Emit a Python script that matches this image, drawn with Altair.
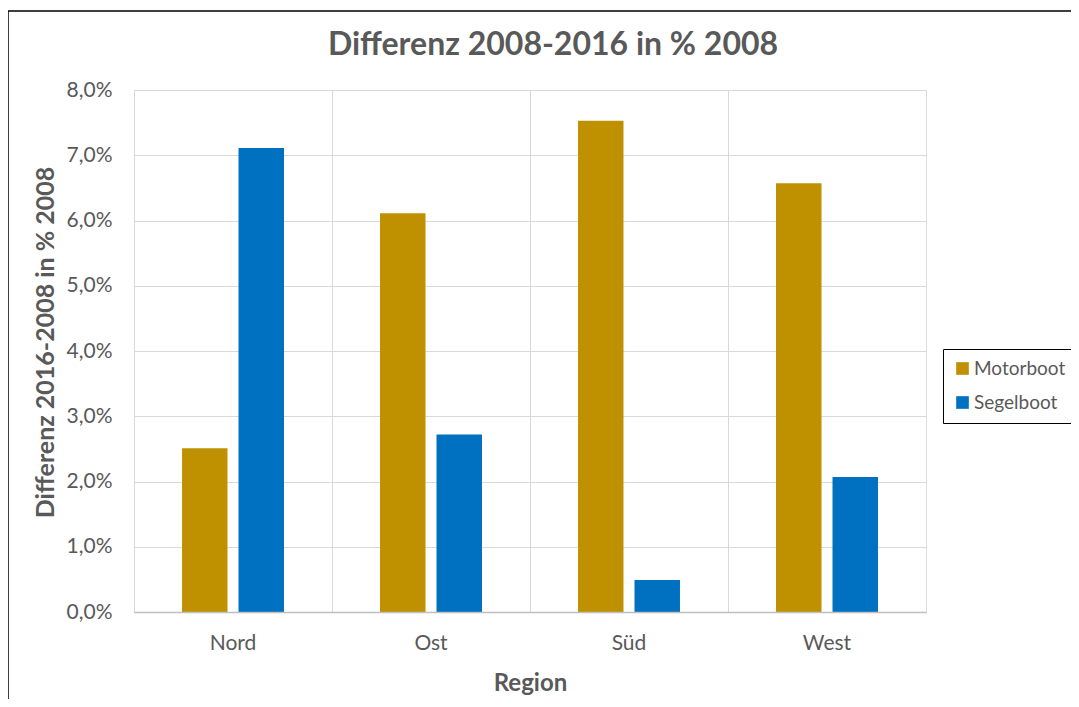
import altair as alt
import pandas as pd

regions = ["Nord", "Ost", "Süd", "West"]
motorboot = [2.51, 6.11, 7.53, 6.57]
segelboot = [7.11, 2.72, 0.49, 2.07]
series = ["Motorboot", "Segelboot"]
colors = ["#BF9000", "#0070C0"]
chart_title = "Differenz 2008-2016 in % 2008"

rows = []
for r, m, s in zip(regions, motorboot, segelboot):
    rows.append({"Region": r, "Typ": "Motorboot", "Wert": m})
    rows.append({"Region": r, "Typ": "Segelboot", "Wert": s})
df = pd.DataFrame(rows)

FONT = "Lato"
GREY = "#595959"

bars = alt.Chart(df).mark_bar().encode(
    x=alt.X("Region:N", sort=regions,
            scale=alt.Scale(paddingInner=0, paddingOuter=0),
            axis=alt.Axis(title="Region", labelAngle=0, labelFontSize=21, labelColor=GREY,
                          labelFont=FONT, labelPadding=20, ticks=False, domainColor="#bfbfbf",
                          domainWidth=1.5, zindex=1,
                          grid=True, bandPosition=0, gridColor="#d9d9d9",
                          titleFontSize=24, titleFont=FONT, titleColor=GREY, titleFontWeight="bold",
                          titlePadding=18)),
    xOffset=alt.XOffset("Typ:N", sort=series,
                        scale=alt.Scale(paddingInner=0.195, paddingOuter=0.85)),
    y=alt.Y("Wert:Q", scale=alt.Scale(domain=[0, 8]),
            axis=alt.Axis(title="Differenz 2016-2008 in % 2008", values=[0, 1, 2, 3, 4, 5, 6, 7, 8],
                          labelExpr="replace(format(datum.value, '.1f'), '.', ',') + '%'",
                          labelFontSize=21, labelColor=GREY, labelFont=FONT, labelPadding=22,
                          ticks=False, domain=False, gridColor="#d9d9d9",
                          titleFontSize=25, titleFont=FONT, titleColor=GREY, titleFontWeight="bold",
                          titleAngle=-90, titleX=-89, titleY=252, titleAlign="center",
                          titleBaseline="middle")),
    color=alt.Color("Typ:N", sort=series, scale=alt.Scale(domain=series, range=colors),
                    legend=alt.Legend(title=None, orient="none", legendX=809, legendY=259,
                                      strokeColor="black", padding=10, labelFontSize=19,
                                      labelFont=FONT, labelColor=GREY, symbolType="square",
                                      symbolSize=160, symbolStrokeWidth=0, rowPadding=14,
                                      labelOffset=2, fillColor="white")),
)

frame = alt.Chart(pd.DataFrame({"a": [0]})).mark_rect(
    fill=None, stroke="black", strokeWidth=1.5
).encode(
    x=alt.value(-126), x2=alt.value(1000), y=alt.value(-79), y2=alt.value(700)
)

title_mark = alt.Chart(pd.DataFrame({"t": [chart_title]})).mark_text(
    font=FONT, fontSize=32, fontWeight="bold", color=GREY, align="center", baseline="middle"
).encode(
    text="t:N", x=alt.value(419), y=alt.value(-45)
)

chart = alt.layer(frame, bars, title_mark).properties(
    width=792, height=522,
    autosize=alt.AutoSizeParams(type="none"),
    padding={"left": 126, "top": 82, "right": 145, "bottom": 87},
).configure_view(stroke="black", strokeWidth=1.5).configure(background="white")

chart.save("out.html", embed_options={"renderer": "svg", "actions": False})
